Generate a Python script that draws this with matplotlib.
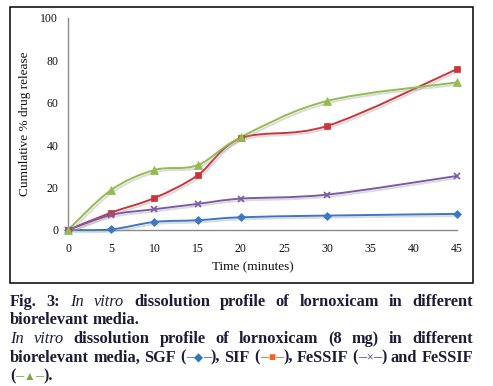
import numpy as np
import matplotlib
matplotlib.use("Agg")
import matplotlib.pyplot as plt
import matplotlib.patheffects as pe
from matplotlib.path import Path
from matplotlib.patches import PathPatch, Rectangle

# dissolution data
time = [0, 5, 10, 15, 20, 30, 45]
sgf = [0, 0.3, 3.8, 4.6, 6.0, 6.8, 7.6]
sif = [0, 8.2, 15.1, 25.8, 43.3, 49.1, 75.9]
fessif = [0, 7.1, 9.8, 12.3, 14.8, 16.7, 25.5]
fessif_fed = [0, 18.9, 28.3, 30.6, 43.8, 60.9, 69.6]

x_ticks = [0, 5, 10, 15, 20, 25, 30, 35, 40, 45]
y_ticks = [0, 20, 40, 60, 80, 100]

W, H = 493, 386
TXT = "#1c1c36"


def smooth_path(xs, ys):
    # excel style smoothed line: cubic bezier through the points
    p = np.column_stack([xs, ys]).astype(float)
    n = len(p)
    verts = [p[0]]
    codes = [Path.MOVETO]
    for i in range(n - 1):
        p0 = p[i - 1] if i > 0 else p[i]
        p3 = p[i + 2] if i + 2 < n else p[i + 1]
        c1 = p[i] + (p[i + 1] - p0) / 6.0
        c2 = p[i + 1] - (p3 - p[i]) / 6.0
        verts += [c1, c2, p[i + 1]]
        codes += [Path.CURVE4] * 3
    return Path(verts, codes)


fig = plt.figure(figsize=(W / 100, H / 100), dpi=100)
ax = fig.add_axes([68 / W, 1 - 230 / H, 389 / W, 212 / H])

series = [
    (sgf, "#3b78c3", "D", 3.6),
    (sif, "#c9353a", "s", 5.0),
    (fessif, "#7d5aa6", "x", 5.0),
    (fessif_fed, "#93bb4e", "^", 5.5),
]
shadow = [pe.SimpleLineShadow(offset=(1.2, -1.5), shadow_color="#999999", alpha=0.35),
          pe.Normal()]
for vals, col, mk, ms in series:
    patch = PathPatch(smooth_path(time, vals), fill=False, edgecolor=col, lw=1.4,
                      transform=ax.transData, clip_on=False, zorder=3)
    patch.set_path_effects(shadow)
    ax.add_patch(patch)
    ax.plot(time, vals, ls="none", marker=mk, ms=ms, color=col, mec=col,
            mew=1.2 if mk == "x" else 0.5, clip_on=False, zorder=4)

ax.set_xlim(0, 45)
ax.set_ylim(0, 100)
ax.set_xticks(x_ticks)
ax.set_yticks(y_ticks)
for s in ["top", "right"]:
    ax.spines[s].set_visible(False)
for s in ["left", "bottom"]:
    ax.spines[s].set_color("#8a8a8a")
    ax.spines[s].set_linewidth(1.0)
ax.tick_params(length=0, labelsize=8.5, colors="#111111")
ax.tick_params(axis="x", pad=9)
ax.tick_params(axis="y", pad=7)
for lab in ax.get_xticklabels() + ax.get_yticklabels():
    lab.set_family("Liberation Serif")

fig.text(25 / W, 1 - 124 / H, "Cumulative % drug release", rotation=90,
         ha="center", va="center", family="Liberation Serif", fontsize=9.5,
         color="#111111")
fig.text(253 / W, 1 - 267 / H, "Time (minutes)", ha="center", va="center",
         family="Liberation Serif", fontsize=9.5, color="#111111")

fig.patches.append(Rectangle((10 / W, 1 - 283 / H), 463 / W, 276 / H, fill=False,
                             edgecolor="black", lw=1.1, transform=fig.transFigure,
                             figure=fig))

# caption, laid out word by word so the lines can be justified
renderer = fig.canvas.get_renderer()
FAM = ["Liberation Serif", "DejaVu Sans"]
FS = 11.8
B = dict(weight="bold", style="normal", color=TXT)
I = dict(weight="normal", style="italic", color=TXT)


def seg(s, **kw):
    d = dict(B)
    d.update(kw)
    return (s, d)


def put_line(words, base_y, justify):
    placed = []
    total = 0.0
    for word in words:
        arts = []
        w = 0.0
        for s, props in word:
            props = dict(props)
            fs = props.pop("fontsize", FS)
            t = fig.text(0, 1 - base_y / H, s, fontsize=fs, family=FAM,
                         ha="left", va="baseline", **props)
            ext = t.get_window_extent(renderer).width
            arts.append((t, ext))
            w += ext
        placed.append((arts, w))
        total += w
    space = 3.6
    if justify and len(words) > 1:
        space = (463 - total) / (len(words) - 1)
    x = 10.0
    for arts, w in placed:
        xx = x
        for t, ext in arts:
            t.set_x(xx / W)
            xx += ext
        x += w + space


def plain(text, props=B):
    return [[(w, props)] for w in text.split()]


def sym(ch, col):
    return [seg("("), seg("\u2013", color=col),
            seg(ch, color=col, fontsize=8.5), seg("\u2013", color=col)]


line1 = plain("Fig. 3:") + plain("In vitro", I) + plain(
    "dissolution profile of lornoxicam in different")
line2 = plain("biorelevant media.")
line3 = plain("In vitro", I) + plain(
    "dissolution profile of lornoxicam (8 mg) in different")
line4 = (plain("biorelevant media, SGF")
         + [sym("\u25c6", "#2e75c0") + [seg("),")]]
         + plain("SIF")
         + [sym("\u25a0", "#f26522") + [seg("),")]]
         + plain("FeSSIF")
         + [sym("\u00d7", "#6a4c9c") + [seg(")")]]
         + plain("and FeSSIF"))
line5 = [sym("\u25b2", "#7cab3c") + [seg(").")]]

put_line(line1, 306, True)
put_line(line2, 324.5, False)
put_line(line3, 343, True)
put_line(line4, 361.5, True)
put_line(line5, 380, False)

fig.savefig("out.png", dpi=100)
